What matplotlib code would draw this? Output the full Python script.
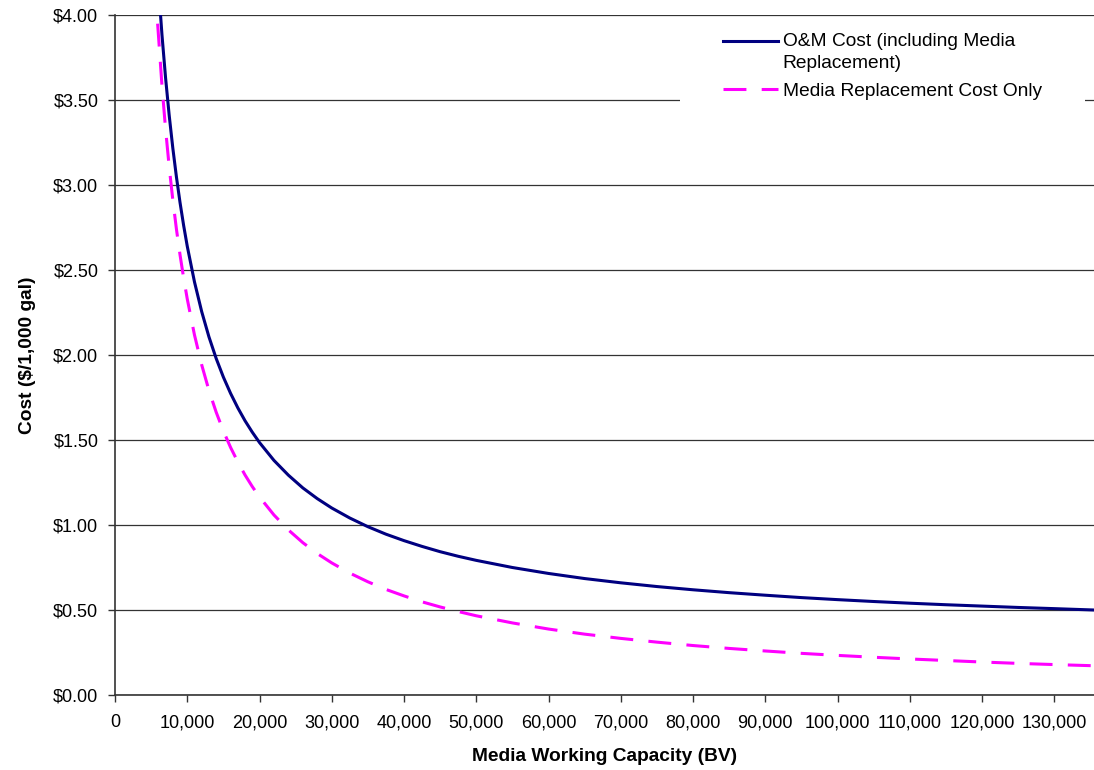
import matplotlib
matplotlib.use("Agg")
import matplotlib.pyplot as plt
from matplotlib.legend_handler import HandlerLine2D
from matplotlib.patches import Rectangle
from matplotlib.ticker import FuncFormatter, MultipleLocator

plt.rcParams['font.family'] = ['Liberation Sans', 'DejaVu Sans']

# Media working capacity (bed volumes)
capacity_om = [6000, 6500, 7000, 7500, 8000, 8500, 9000, 9500, 10000, 11000,
               12000, 13000, 14000, 15000, 16000, 17000, 18000, 19000, 20000,
               22000, 24000, 26000, 28000, 30000, 32500, 35000, 37500, 40000,
               42500, 45000, 47500, 50000, 55000, 60000, 65000, 70000, 75000,
               80000, 85000, 90000, 95000, 100000, 105000, 110000, 115000,
               120000, 125000, 130000, 135500]
# O&M cost including media replacement ($/1,000 gal)
cost_om = [4.180, 3.884, 3.630, 3.410, 3.218, 3.048, 2.897, 2.762, 2.640, 2.430,
           2.255, 2.107, 1.980, 1.870, 1.774, 1.689, 1.613, 1.546, 1.485,
           1.380, 1.293, 1.218, 1.155, 1.100, 1.041, 0.990, 0.946, 0.908,
           0.874, 0.843, 0.816, 0.792, 0.750, 0.715, 0.685, 0.660, 0.638,
           0.619, 0.602, 0.587, 0.573, 0.561, 0.550, 0.540, 0.531,
           0.523, 0.515, 0.508, 0.500]

capacity_media = [5900, 6500, 7000, 7500, 8000, 8500, 9000, 9500, 10000, 11000,
                  12000, 13000, 14000, 15000, 16000, 17000, 18000, 19000, 20000,
                  22000, 24000, 26000, 28000, 30000, 32500, 35000, 37500, 40000,
                  42500, 45000, 47500, 50000, 55000, 60000, 65000, 70000, 75000,
                  80000, 85000, 90000, 95000, 100000, 105000, 110000, 115000,
                  120000, 125000, 130000, 135500]
# Media replacement cost only ($/1,000 gal)
cost_media = [3.949, 3.585, 3.329, 3.107, 2.913, 2.741, 2.589, 2.453, 2.330, 2.118,
              1.942, 1.792, 1.664, 1.553, 1.456, 1.371, 1.294, 1.226, 1.165,
              1.059, 0.971, 0.896, 0.832, 0.777, 0.717, 0.666, 0.621, 0.583,
              0.548, 0.518, 0.491, 0.466, 0.424, 0.388, 0.358, 0.333, 0.311,
              0.291, 0.274, 0.259, 0.245, 0.233, 0.222, 0.212, 0.203,
              0.194, 0.186, 0.179, 0.172]


class FirstLineHandler(HandlerLine2D):
    """Legend key raised to sit beside the first line of a two-line label."""

    def __init__(self, shift, **kw):
        super().__init__(**kw)
        self.shift = shift

    def create_artists(self, legend, orig_handle, xdescent, ydescent,
                       width, height, fontsize, trans):
        return super().create_artists(legend, orig_handle, xdescent,
                                      ydescent - 2 * self.shift, width,
                                      height, fontsize, trans)


W, H = 1094, 770
fig = plt.figure(figsize=(W / 100, H / 100), dpi=100)
ax = fig.add_axes([115 / W, 1 - 695 / H, 979 / W, 680 / H])

line_om, = ax.plot(capacity_om, cost_om, color='#000080', lw=2.2,
                   label='O&M Cost (including Media\nReplacement)', zorder=3)
line_media, = ax.plot(capacity_media, cost_media, color='#FF00FF', lw=2.2,
                      dashes=(7.5, 5), label='Media Replacement Cost Only',
                      zorder=3)

ax.set_xlim(0, 135500)
ax.set_ylim(0, 4.0)
ax.xaxis.set_major_locator(MultipleLocator(10000))
ax.yaxis.set_major_locator(MultipleLocator(0.5))
ax.xaxis.set_major_formatter(FuncFormatter(lambda v, p: f"{int(v):,}"))
ax.yaxis.set_major_formatter(FuncFormatter(lambda v, p: f"${v:.2f}"))

ax.grid(axis='y', color='#333333', lw=0.9, zorder=1)
ax.set_axisbelow(True)
for s in ('top', 'right'):
    ax.spines[s].set_visible(False)
for s in ('left', 'bottom'):
    ax.spines[s].set_color('#333333')
    ax.spines[s].set_linewidth(1.2)
ax.tick_params(axis='both', direction='out', length=5, width=1,
               color='#333333', labelsize=13)
ax.tick_params(axis='x', pad=9)
ax.tick_params(axis='y', pad=7)

ax.set_xlabel('Media Working Capacity (BV)', fontsize=13.8, fontweight='bold',
              labelpad=12)
ax.set_ylabel('Cost ($/1,000 gal)', fontsize=13.8, fontweight='bold',
              labelpad=12)

# white legend panel
ax.add_patch(Rectangle((680 / W, 1 - 106 / H), 405 / W, 89 / H,
                       transform=fig.transFigure, facecolor='white',
                       edgecolor='none', zorder=2))

leg = ax.legend(handles=[line_om, line_media],
                handler_map={line_om: FirstLineHandler(7.9)},
                loc='upper left', bbox_to_anchor=(723 / W, 1 - 33 / H),
                bbox_transform=fig.transFigure, frameon=False,
                fontsize=13.8, handlelength=2.86, handletextpad=0.26,
                borderpad=0, borderaxespad=0, labelspacing=0.56)
for t in leg.get_texts():
    t.set_linespacing(1.38)
leg.set_zorder(5)

fig.savefig('out.png', dpi=100)
